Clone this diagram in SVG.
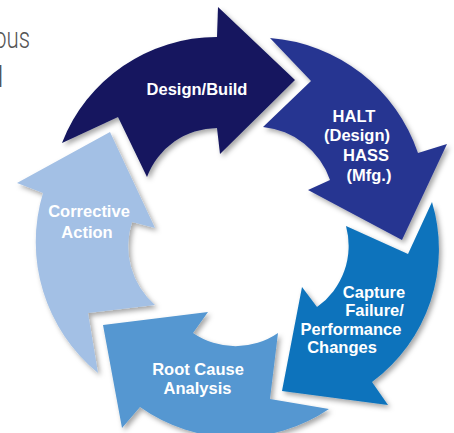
<svg xmlns="http://www.w3.org/2000/svg" width="454" height="433" viewBox="0 0 454 433">
<defs>
<filter id="sh" x="-20%" y="-20%" width="140%" height="140%">
<feDropShadow dx="2.5" dy="3" stdDeviation="2.5" flood-color="#000" flood-opacity="0.35"/>
</filter>
<style>
.arrow{filter:url(#sh)}
.lbl{font-family:"Liberation Sans",Arial,Helvetica,sans-serif;font-weight:bold;font-size:16.5px;fill:#fff;text-anchor:middle}
.side{font-family:Roboto,"Liberation Sans",sans-serif;font-weight:300;fill:#555}
</style>
</defs>
<rect width="454" height="433" fill="#fff"/>
<text class="side" x="-6" y="48" font-size="30" textLength="36" lengthAdjust="spacingAndGlyphs">ous</text>
<text class="side" x="-3" y="87" font-size="30">l</text>

<g id="corrective-action">
<path class="arrow" fill="#a3c0e5" d="M 98,373 A 169 169 0 0 1 43,193 L 17,183 L 110,132 L 155,228 L 132,222 A 78 78 0 0 0 155,305 L 88,313 Z"/>
<text class="lbl" x="89" y="217">Corrective</text>
<text class="lbl" x="87" y="238">Action</text>
</g>

<g id="root-cause">
<path class="arrow" fill="#5497d1" d="M 278,333 A 75 75 0 0 1 193,333 L 208,312 L 103,325 L 122,428 L 140,407 A 166 166 0 0 0 329,409 L 270,399 Z"/>
<text class="lbl" x="198" y="375">Root Cause</text>
<text class="lbl" x="197.5" y="393.5">Analysis</text>
</g>

<g id="capture">
<path class="arrow" fill="#0b73bc" d="M 432,202 A 165 165 0 0 1 372,382 L 388,405 L 282,391 L 302,287 L 317,307 A 75 75 0 0 0 346,226 L 408,254 Z"/>
<text class="lbl" x="374" y="297.5">Capture</text>
<text class="lbl" x="374.5" y="316">Failure/</text>
<text class="lbl" x="351" y="334.5">Performance</text>
<text class="lbl" x="342" y="353">Changes</text>
</g>

<g id="halt-hass">
<path class="arrow" fill="#283691" d="M 270,38 A 170 170 0 0 1 418,153 L 447,144 L 402,240 L 308,190 L 330,180 A 79 79 0 0 0 263,127 L 311,81 Z"/>
<text class="lbl" x="354" y="121.5">HALT</text>
<text class="lbl" x="357" y="141">(Design)</text>
<text class="lbl" x="366" y="161">HASS</text>
<text class="lbl" x="369" y="180.5">(Mfg.)</text>
</g>

<g id="design-build">
<path class="arrow" fill="#13165f" d="M 62,143 A 166 166 0 0 1 217,37 L 218,7 L 295,80 L 220,154 L 217,128 A 75 75 0 0 0 147,177 L 118,117 Z"/>
<text class="lbl" x="197" y="95">Design/Build</text>
</g>
</svg>
